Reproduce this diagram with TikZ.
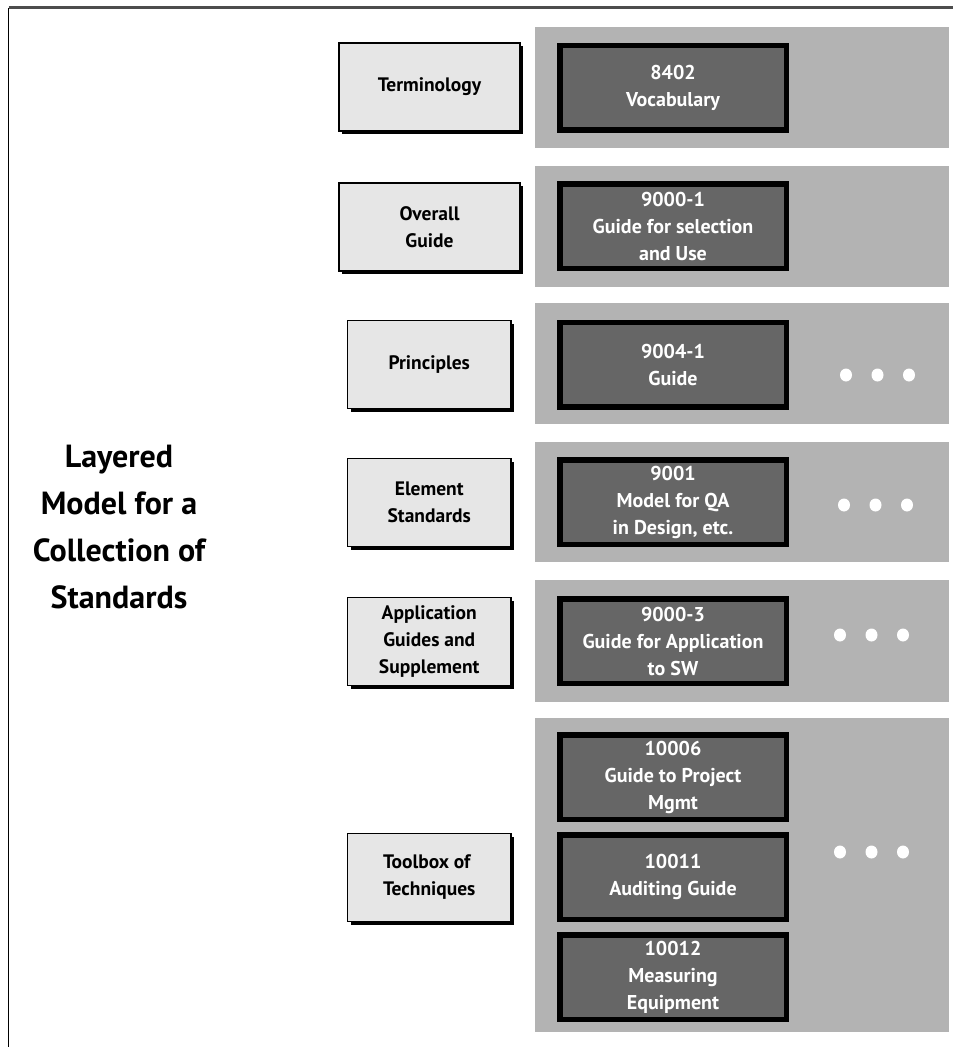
\documentclass[tikz,border=0pt]{standalone}
\usepackage{fontspec}
\setmainfont{PT Sans}
\usetikzlibrary{shadows,shapes.geometric}
\definecolor{panelgray}{HTML}{B3B3B3}
\definecolor{stdfill}{HTML}{666666}
\definecolor{layerfill}{HTML}{E6E6E6}
\definecolor{rulegray}{HTML}{4D4D4D}
\begin{document}
\begin{tikzpicture}[x=1pt,y=-1pt,
  panel/.style={fill=panelgray, draw=none, inner sep=0pt, minimum width=414pt},
  stdbox/.style={fill=stdfill, draw=black, line width=5.5pt, inner sep=0pt,
    minimum width=226.5pt, minimum height=84.5pt, align=center, text=white,
    font=\bfseries\fontsize{20}{27}\selectfont},
  layerbox/.style={fill=layerfill, draw=black, line width=1.2pt, inner sep=0pt,
    minimum height=88pt, align=center, font=\bfseries\fontsize{19.5}{27}\selectfont,
    drop shadow={opacity=1, fill=black, shadow xshift=3pt, shadow yshift=-3pt}},
  widebox/.style={layerbox, minimum width=181pt},
  narrowbox/.style={layerbox, minimum width=163.5pt},
  dot/.style={ellipse, fill=white, draw=none, inner sep=0pt, minimum width=12pt, minimum height=13pt}]
\useasboundingbox (0,0) rectangle (953,1047);

% frame rules
\coordinate (ftl) at (8.5,7.5);
\coordinate (ftr) at (953,7.5);
\coordinate (fbl) at (8.5,1047);
\draw[rulegray, line width=2.2pt] (ftl) -- (ftr);
\draw[black, line width=1.5pt] (ftl) -- (fbl);

% grey layer panels
\node[panel, minimum height=121pt] (p1) at (742,87.5) {};
\node[panel, minimum height=121pt] (p2) at (742,226.5) {};
\node[panel, minimum height=121pt] (p3) at (742,363.5) {};
\node[panel, minimum height=120pt] (p4) at (742,502) {};
\node[panel, minimum height=122pt] (p5) at (742,641) {};
\node[panel, minimum height=314pt] (p6) at (742,875) {};

% standards
\node[stdbox] (s1) at (673,87.5) {8402\\Vocabulary};
\node[stdbox] (s2) at (673,226) {9000-1\\Guide for selection\\and Use};
\node[stdbox] (s3) at (673,364.5) {9004-1\\Guide};
\node[stdbox] (s4) at (673,502) {9001\\Model for QA\\in Design, etc.};
\node[stdbox] (s5) at (673,641) {9000-3\\Guide for Application\\to SW};
\node[stdbox] (s6a) at (673,777) {10006\\Guide to Project\\Mgmt};
\node[stdbox] (s6b) at (673,877) {10011\\Auditing Guide};
\node[stdbox] (s6c) at (673,977) {10012\\Measuring\\Equipment};

% continuation dots
\foreach \r/\y/\x in {3/375/846, 4/505/844, 5/635/840, 6/852/840}{
  \node[dot] (d\r a) at (\x,\y) {};
  \node[dot] (d\r b) at (\x+31.5,\y) {};
  \node[dot] (d\r c) at (\x+63,\y) {};
}

% layer names
\node[widebox] (l1) at (429.5,87) {Terminology};
\node[widebox] (l2) at (429.5,227) {Overall\\Guide};
\node[narrowbox] (l3) at (429.25,364.5) {Principles};
\node[narrowbox] (l4) at (429.25,502.5) {Element\\Standards};
\node[narrowbox] (l5) at (429.25,641.5) {Application\\Guides and\\Supplement};
\node[narrowbox, align=left] (l6) at (429.25,877.5) {Toolbox of\\Techniques};

% title
\node[align=center, font=\bfseries\fontsize{32}{47}\selectfont] (title) at (119,527)
  {Layered\\Model for a\\Collection of\\Standards};
\end{tikzpicture}
\end{document}
